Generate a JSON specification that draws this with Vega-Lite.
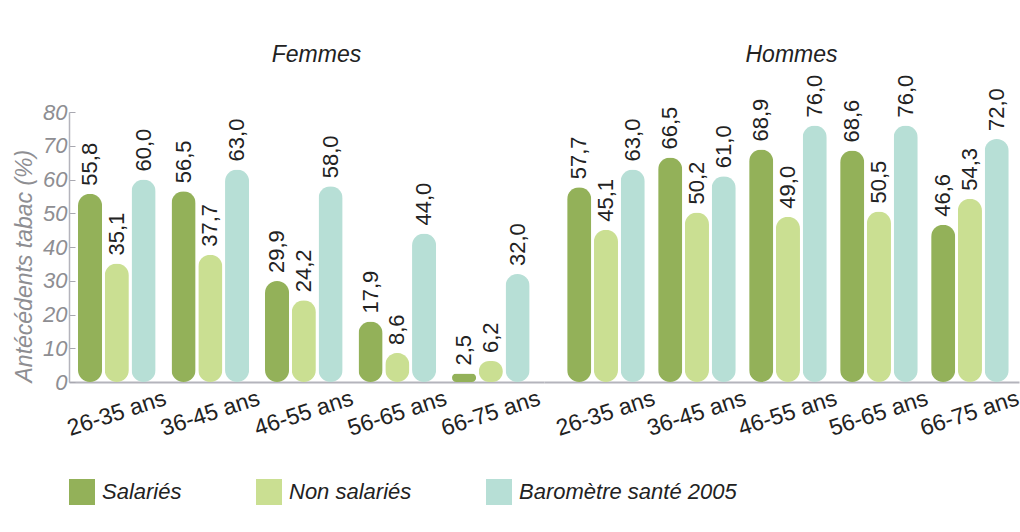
{
  "$schema": "https://vega.github.io/schema/vega-lite/v6.json",
  "padding": {"left": 13, "top": 43, "right": 0, "bottom": 0},
  "background": "white",
  "config": {
    "locale": {"number": {"decimal": ",", "thousands": " ", "grouping": [3], "currency": ["", " €"]}},
    "font": "Liberation Sans",
    "view": {"stroke": null},
    "concat": {"spacing": 0},
    "title": {"fontSize": 23, "fontStyle": "italic", "fontWeight": "normal", "color": "#222222", "font": "Liberation Sans"}
  },
  "data": {
    "values": [
      {"sexe": "Femmes", "age": "26-35 ans", "serie": "Salariés", "v": 55.8},
      {"sexe": "Femmes", "age": "26-35 ans", "serie": "Non salariés", "v": 35.1},
      {"sexe": "Femmes", "age": "26-35 ans", "serie": "Baromètre santé 2005", "v": 60.0},
      {"sexe": "Femmes", "age": "36-45 ans", "serie": "Salariés", "v": 56.5},
      {"sexe": "Femmes", "age": "36-45 ans", "serie": "Non salariés", "v": 37.7},
      {"sexe": "Femmes", "age": "36-45 ans", "serie": "Baromètre santé 2005", "v": 63.0},
      {"sexe": "Femmes", "age": "46-55 ans", "serie": "Salariés", "v": 29.9},
      {"sexe": "Femmes", "age": "46-55 ans", "serie": "Non salariés", "v": 24.2},
      {"sexe": "Femmes", "age": "46-55 ans", "serie": "Baromètre santé 2005", "v": 58.0},
      {"sexe": "Femmes", "age": "56-65 ans", "serie": "Salariés", "v": 17.9},
      {"sexe": "Femmes", "age": "56-65 ans", "serie": "Non salariés", "v": 8.6},
      {"sexe": "Femmes", "age": "56-65 ans", "serie": "Baromètre santé 2005", "v": 44.0},
      {"sexe": "Femmes", "age": "66-75 ans", "serie": "Salariés", "v": 2.5},
      {"sexe": "Femmes", "age": "66-75 ans", "serie": "Non salariés", "v": 6.2},
      {"sexe": "Femmes", "age": "66-75 ans", "serie": "Baromètre santé 2005", "v": 32.0},
      {"sexe": "Hommes", "age": "26-35 ans", "serie": "Salariés", "v": 57.7},
      {"sexe": "Hommes", "age": "26-35 ans", "serie": "Non salariés", "v": 45.1},
      {"sexe": "Hommes", "age": "26-35 ans", "serie": "Baromètre santé 2005", "v": 63.0},
      {"sexe": "Hommes", "age": "36-45 ans", "serie": "Salariés", "v": 66.5},
      {"sexe": "Hommes", "age": "36-45 ans", "serie": "Non salariés", "v": 50.2},
      {"sexe": "Hommes", "age": "36-45 ans", "serie": "Baromètre santé 2005", "v": 61.0},
      {"sexe": "Hommes", "age": "46-55 ans", "serie": "Salariés", "v": 68.9},
      {"sexe": "Hommes", "age": "46-55 ans", "serie": "Non salariés", "v": 49.0},
      {"sexe": "Hommes", "age": "46-55 ans", "serie": "Baromètre santé 2005", "v": 76.0},
      {"sexe": "Hommes", "age": "56-65 ans", "serie": "Salariés", "v": 68.6},
      {"sexe": "Hommes", "age": "56-65 ans", "serie": "Non salariés", "v": 50.5},
      {"sexe": "Hommes", "age": "56-65 ans", "serie": "Baromètre santé 2005", "v": 76.0},
      {"sexe": "Hommes", "age": "66-75 ans", "serie": "Salariés", "v": 46.6},
      {"sexe": "Hommes", "age": "66-75 ans", "serie": "Non salariés", "v": 54.3},
      {"sexe": "Hommes", "age": "66-75 ans", "serie": "Baromètre santé 2005", "v": 72.0}
    ]
  },
  "resolve": {"scale": {"color": "shared", "y": "shared"}},
  "hconcat": [
    {
      "title": {"text": "Femmes", "offset": 34, "dx": 10},
      "width": 475,
      "height": 270,
      "transform": [{"filter": "datum.sexe === 'Femmes'"}],
      "encoding": {
        "x": {
          "field": "age", "type": "nominal", "sort": null, "title": null,
          "scale": {"paddingInner": 0.17, "paddingOuter": 0.125, "align": 0.385},
          "axis": {"labelAngle": -18, "labelAlign": "center", "labelBaseline": "middle", "labelPadding": 31, "labelDx": -10,
                   "ticks": false, "labelFontSize": 23, "labelColor": "#222222", "labelFont": "Liberation Sans",
                   "domainColor": "#b4b4bc", "domainWidth": 2}
        },
        "xOffset": {"field": "serie", "type": "nominal", "sort": ["Salariés", "Non salariés", "Baromètre santé 2005"], "scale": {"paddingInner": 0.1}},
        "y": {
          "field": "v", "type": "quantitative", "title": "Antécédents tabac (%)",
          "scale": {"domain": [0, 80], "nice": false},
          "axis": {"values": [0, 10, 20, 30, 40, 50, 60, 70, 80], "grid": false, "tickSize": -6, "tickColor": "#a8a8b0", "tickWidth": 1,
                   "labelPadding": 8, "labelFontSize": 22, "labelFontStyle": "italic", "labelColor": "#8e8e92", "labelFont": "Liberation Sans",
                   "domainColor": "#b4b4bc", "domainWidth": 1.5,
                   "titleFontSize": 23, "titleFontStyle": "italic", "titleFontWeight": "normal", "titleColor": "#8e8e92", "titleFont": "Liberation Sans",
                   "titleAnchor": "start", "titlePadding": 6}
        }
      },
      "layer": [
        {
          "mark": {"type": "bar", "cornerRadius": 12},
          "encoding": {
            "color": {
              "field": "serie", "type": "nominal", "title": null,
              "scale": {"domain": ["Salariés", "Non salariés", "Baromètre santé 2005"], "range": ["#93b159", "#cadf92", "#b7dfd6"]},
              "legend": {"orient": "bottom", "direction": "horizontal", "symbolType": "square", "symbolSize": 676, "symbolStrokeWidth": 0, "symbolOpacity": 1,
                         "labelFontSize": 22, "labelFontStyle": "italic", "labelColor": "#222222", "labelFont": "Liberation Sans", "labelLimit": 0,
                         "labelOffset": 7, "columnPadding": 74, "offset": 38}
            }
          }
        },
        {
          "mark": {"type": "text", "angle": 270, "align": "left", "baseline": "middle", "dx": 8, "fontSize": 22, "color": "#222222"},
          "encoding": {"text": {"field": "v", "type": "quantitative", "format": ".1f"}}
        }
      ]
    },
    {
      "title": {"text": "Hommes", "offset": 8, "dx": 10},
      "width": 475,
      "height": 270,
      "transform": [{"filter": "datum.sexe === 'Hommes'"}],
      "encoding": {
        "x": {
          "field": "age", "type": "nominal", "sort": null, "title": null,
          "scale": {"paddingInner": 0.154, "paddingOuter": 0.187, "align": 0.68},
          "axis": {"labelAngle": -18, "labelAlign": "center", "labelBaseline": "middle", "labelPadding": 31, "labelDx": -10,
                   "ticks": false, "labelFontSize": 23, "labelColor": "#222222", "labelFont": "Liberation Sans",
                   "domainColor": "#b4b4bc", "domainWidth": 2}
        },
        "xOffset": {"field": "serie", "type": "nominal", "sort": ["Salariés", "Non salariés", "Baromètre santé 2005"], "scale": {"paddingInner": 0.1}},
        "y": {
          "field": "v", "type": "quantitative",
          "scale": {"domain": [0, 80], "nice": false},
          "axis": null
        }
      },
      "layer": [
        {
          "mark": {"type": "bar", "cornerRadius": 12},
          "encoding": {
            "color": {"field": "serie", "type": "nominal", "title": null,
              "scale": {"domain": ["Salariés", "Non salariés", "Baromètre santé 2005"], "range": ["#93b159", "#cadf92", "#b7dfd6"]}}
          }
        },
        {
          "mark": {"type": "text", "angle": 270, "align": "left", "baseline": "middle", "dx": 8, "fontSize": 22, "color": "#222222"},
          "encoding": {"text": {"field": "v", "type": "quantitative", "format": ".1f"}}
        }
      ]
    }
  ]
}
